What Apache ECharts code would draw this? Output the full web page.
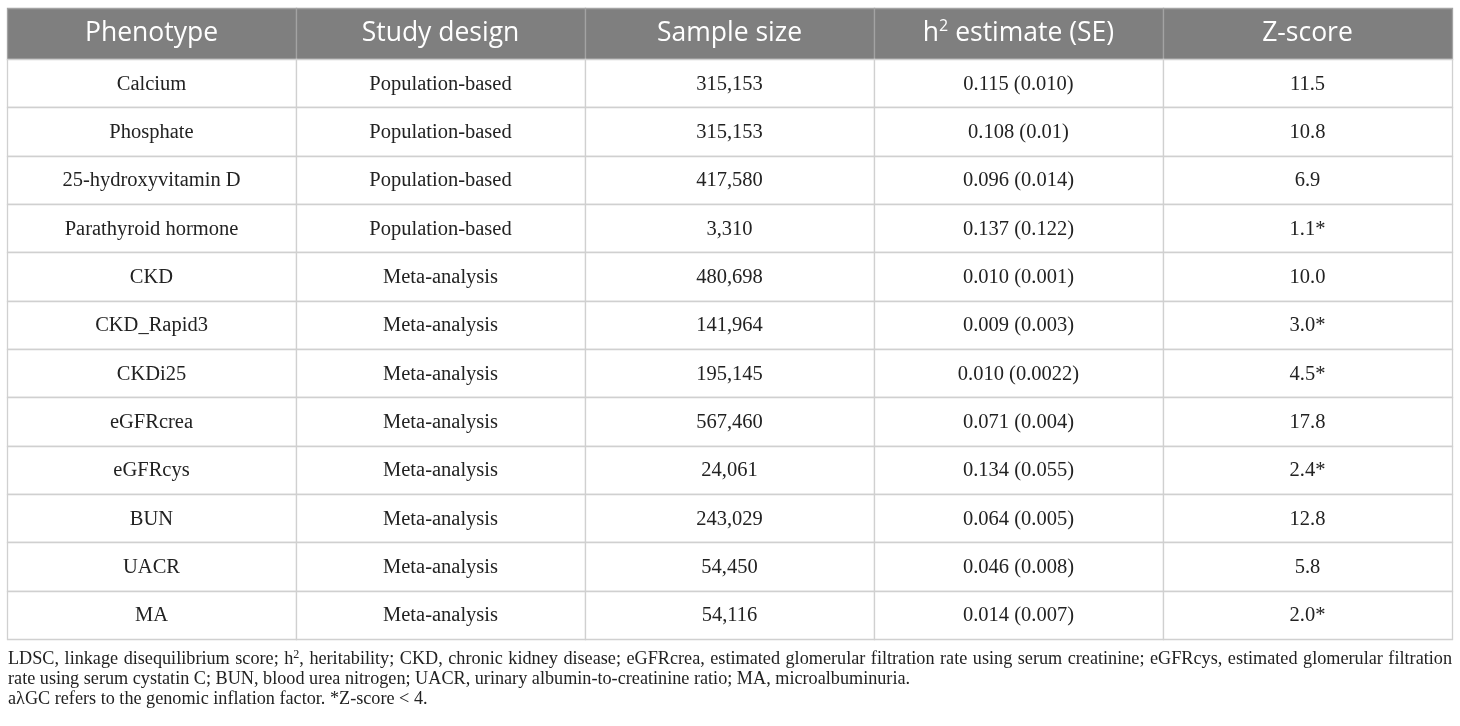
<!DOCTYPE html>
<html><head><meta charset="utf-8">
<script src="https://cdn.jsdelivr.net/npm/echarts@6/dist/echarts.min.js"></script>
<style>html,body{margin:0;padding:0;background:#fff}#main{width:1460px;height:726px}</style>
</head><body><div id="main"></div>
<script>
var headers = ['Phenotype', 'Study design', 'Sample size', 'h{sup|2} estimate (SE)', 'Z-score'];
var phenotypes = ['Calcium', 'Phosphate', '25-hydroxyvitamin D', 'Parathyroid hormone', 'CKD', 'CKD_Rapid3', 'CKDi25', 'eGFRcrea', 'eGFRcys', 'BUN', 'UACR', 'MA'];
var studyDesign = ['Population-based', 'Population-based', 'Population-based', 'Population-based', 'Meta-analysis', 'Meta-analysis', 'Meta-analysis', 'Meta-analysis', 'Meta-analysis', 'Meta-analysis', 'Meta-analysis', 'Meta-analysis'];
var sampleSize = ['315,153', '315,153', '417,580', '3,310', '480,698', '141,964', '195,145', '567,460', '24,061', '243,029', '54,450', '54,116'];
var h2Estimate = ['0.115 (0.010)', '0.108 (0.01)', '0.096 (0.014)', '0.137 (0.122)', '0.010 (0.001)', '0.009 (0.003)', '0.010 (0.0022)', '0.071 (0.004)', '0.134 (0.055)', '0.064 (0.005)', '0.046 (0.008)', '0.014 (0.007)'];
var zScore = ['11.5', '10.8', '6.9', '1.1*', '10.0', '3.0*', '4.5*', '17.8', '2.4*', '12.8', '5.8', '2.0*'];
var footnotes = [
  'LDSC, linkage disequilibrium score; h{sup|2}, heritability; CKD, chronic kidney disease; eGFRcrea, estimated glomerular filtration rate using serum creatinine; eGFRcys, estimated glomerular filtration',
  'rate using serum cystatin C; BUN, blood urea nitrogen; UACR, urinary albumin-to-creatinine ratio; MA, microalbuminuria.',
  'a\u03BBGC refers to the genomic inflation factor. *Z-score < 4.'
];

var columns = [phenotypes, studyDesign, sampleSize, h2Estimate, zScore];
var headerData = headers.map(function (h, c) { return [c, 0]; });
var bodyData = [];
phenotypes.forEach(function (p, r) {
  for (var c = 0; c < columns.length; c++) bodyData.push([c, r]);
});

var chart = echarts.init(document.getElementById('main'), null, { renderer: 'canvas' });

function cell(api, fill, stroke, text, color, size, family, rich, dy) {
  var p = api.coord([api.value(0), api.value(1)]);
  var s = api.size([1, 1]);
  var x0 = Math.round(p[0] - s[0] / 2), x1 = Math.round(p[0] + s[0] / 2);
  var y0 = Math.round(p[1] - s[1] / 2), y1 = Math.round(p[1] + s[1] / 2);
  return {
    type: 'group',
    children: [
      { type: 'rect', shape: { x: x0 + 0.5, y: y0 + 0.5, width: x1 - x0, height: y1 - y0 },
        style: { fill: fill, stroke: stroke, lineWidth: 1.3 } },
      { type: 'text', x: p[0], y: p[1] + dy,
        style: { text: text, fill: color, fontSize: size, fontFamily: family, align: 'center', verticalAlign: 'middle', rich: rich } }
    ]
  };
}

// footnotes
var FN_SIZE = 18.2, FN_SUP = 12, FN_FAMILY = '"Liberation Serif", serif';
var fnLeft = 8, fnRight = 1452;
var ctx = document.createElement('canvas').getContext('2d');
function measure(word) {
  var parts = word.split(/\{sup\|([^}]*)\}/);
  var w = 0;
  for (var i = 0; i < parts.length; i++) {
    ctx.font = (i % 2 ? FN_SUP : FN_SIZE) + 'px ' + FN_FAMILY;
    w += ctx.measureText(parts[i]).width;
  }
  return w;
}
var fnRich = { sup: { fontSize: FN_SUP, fill: '#222222', fontFamily: FN_FAMILY, padding: [0, 0, 9, 0] } };
var graphics = [];
footnotes.forEach(function (t, i) {
  var y = 659 + i * 20;
  if (i === 0) {
    var words = t.split(' ');
    var total = 0;
    var widths = words.map(function (w) { var m = measure(w); total += m; return m; });
    var gap = (fnRight - fnLeft - total) / (words.length - 1);
    var x = fnLeft;
    words.forEach(function (w, k) {
      graphics.push({ type: 'text', x: x, y: y, style: { text: w, fill: '#222222', fontSize: FN_SIZE, fontFamily: FN_FAMILY, verticalAlign: 'middle', rich: fnRich } });
      x += widths[k] + gap;
    });
  } else {
    graphics.push({ type: 'text', x: fnLeft, y: y, style: { text: t, fill: '#222222', fontSize: FN_SIZE, fontFamily: FN_FAMILY, verticalAlign: 'middle', rich: fnRich } });
  }
});

var option = {
  backgroundColor: '#ffffff',
  animation: false,
  grid: [
    { left: 7, right: 8, top: 8, height: 51 },
    { left: 7, right: 8, top: 59, height: 580 }
  ],
  xAxis: [
    { type: 'category', gridIndex: 0, data: headers, show: false },
    { type: 'category', gridIndex: 1, data: headers, show: false }
  ],
  yAxis: [
    { type: 'category', gridIndex: 0, data: ['header'], show: false },
    { type: 'category', gridIndex: 1, data: phenotypes, inverse: true, show: false }
  ],
  series: [
    {
      type: 'custom', xAxisIndex: 0, yAxisIndex: 0, data: headerData,
      renderItem: function (params, api) {
        return cell(api, '#7f7f7f', '#a3a3a3', headers[api.value(0)], '#ffffff', 26.5, '"Open Sans", "Noto Sans", sans-serif',
          { sup: { fontSize: 16, fill: '#ffffff', fontFamily: '"Open Sans", sans-serif', padding: [0, 0, 15, 0] } }, 0);
      }
    },
    {
      type: 'custom', xAxisIndex: 1, yAxisIndex: 1, data: bodyData,
      renderItem: function (params, api) {
        var c = api.value(0), r = api.value(1);
        return cell(api, '#ffffff', '#d0d0d0', columns[c][r], '#222222', 20.5, '"Liberation Serif", "DejaVu Serif", serif', {}, 1);
      }
    }
  ],
  graphic: graphics
};
chart.setOption(option);
</script>
</body></html>
